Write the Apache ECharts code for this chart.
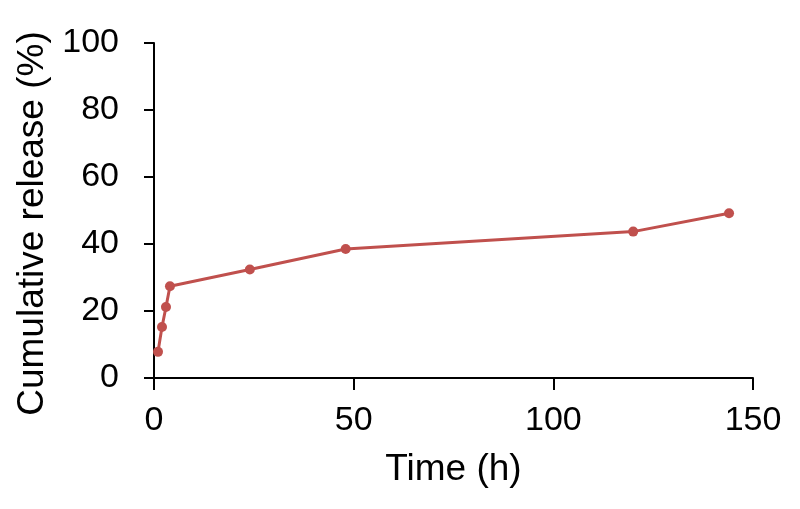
<!DOCTYPE html>
<html>
<head>
<meta charset="utf-8">
<script src="https://cdn.jsdelivr.net/npm/echarts@6/dist/echarts.min.js"></script>
<style>
  html, body { margin: 0; padding: 0; background: #ffffff; }
  #chart { width: 800px; height: 509px; }
</style>
</head>
<body>
<div id="chart"></div>
<script>
// 时间点 (h) 与累计释放 (%)
var timeHours = [1, 2, 3, 4, 24, 48, 120, 144]
var releasePct = [7.8, 15.2, 21.2, 27.4, 32.4, 38.5, 43.7, 49.2]
var xTicks = [0, 50, 100, 150]
var yTicks = [0, 20, 40, 60, 80, 100]

var points = []
for (var i = 0; i < timeHours.length; i++) {
  points.push([timeHours[i], releasePct[i]])
}

var fontName = 'Liberation Sans'
var myChart = echarts.init(document.getElementById('chart'))
var option = {
  animation: false,
  grid: {
    left: 154,
    right: 47,
    top: 43,
    bottom: 131
  },
  xAxis: {
    type: 'value',
    min: xTicks[0],
    max: xTicks[xTicks.length - 1],
    interval: 50,
    name: 'Time (h)',
    nameLocation: 'middle',
    nameGap: 73,
    nameTextStyle: { color: '#000', fontSize: 37, fontFamily: fontName },
    axisLine: { show: true, lineStyle: { color: '#000', width: 2 } },
    axisTick: { show: true, length: 12, lineStyle: { color: '#000', width: 2 } },
    axisLabel: { color: '#000', fontSize: 34, fontFamily: fontName, margin: 26 },
    splitLine: { show: false }
  },
  yAxis: {
    type: 'value',
    min: yTicks[0],
    max: yTicks[yTicks.length - 1],
    interval: 20,
    name: 'Cumulative release (%)',
    nameLocation: 'middle',
    nameGap: 103,
    nameTextStyle: { color: '#000', fontSize: 37, fontFamily: fontName, padding: [0, 26, 0, 0] },
    axisLine: { show: true, lineStyle: { color: '#000', width: 2 } },
    axisTick: { show: true, length: 10, lineStyle: { color: '#000', width: 2 } },
    axisLabel: { color: '#000', fontSize: 34, fontFamily: fontName, margin: 35 },
    splitLine: { show: false }
  },
  series: [
    {
      type: 'line',
      data: points,
      symbol: 'circle',
      symbolSize: 10,
      lineStyle: { color: '#c0504d', width: 3 },
      itemStyle: { color: '#c0504d' }
    }
  ]
}
myChart.setOption(option)
</script>
</body>
</html>
